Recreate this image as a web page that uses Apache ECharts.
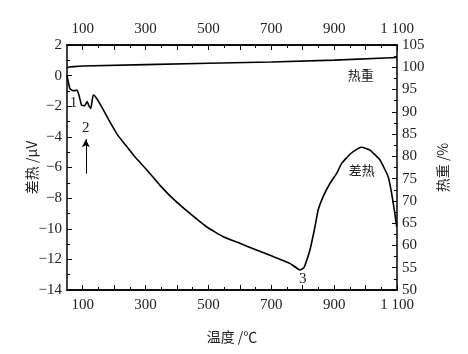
<!DOCTYPE html>
<html><head><meta charset="utf-8">
<script src="https://cdn.jsdelivr.net/npm/echarts@6/dist/echarts.min.js"></script>
<style>html,body{margin:0;padding:0;background:#fff}#c{width:468px;height:354px}</style>
</head><body><div id="c"></div>
<script>
const dtaTemps = [50,55,59,65,69,76,82,88,92,96,106,114,120,126,133,137,144,160,186,212,239,266,297,329,345,388,441,494,547,600,653,706,759,791,802,807,823,839,849,865,887,908,924,951,977,988,1014,1046,1072,1083,1093,1099];
const dtaValues = [0,-0.5,-0.83,-0.95,-0.98,-0.98,-0.94,-1.27,-1.6,-1.92,-1.98,-1.7,-1.98,-2.15,-1.27,-1.3,-1.48,-2.03,-3.0,-3.9,-4.6,-5.3,-6.0,-6.75,-7.15,-8.05,-9.0,-9.87,-10.52,-10.95,-11.39,-11.82,-12.26,-12.69,-12.58,-12.4,-11.39,-9.87,-8.78,-7.9,-7.03,-6.38,-5.73,-5.12,-4.75,-4.68,-4.86,-5.51,-6.6,-7.69,-8.99,-9.87];
const tgTemps = [50,60,100,300,500,700,900,1100];
const tgValues = [99.9,100.1,100.3,100.6,100.9,101.2,101.6,102.2];
const xMajor = [100,200,300,400,500,600,700,800,900,1000,1100];
const xMinor = [150,250,350,450,550,650,750,850,950,1050];
const xLabels = [100,300,500,700,900,1100];

const serif = '"Liberation Serif", "Times New Roman", "DejaVu Serif", serif';
const cjk = '"Noto Sans CJK SC", sans-serif';
const txt = '#222';
const fmtX = v => v >= 1000 ? String(v).replace(/^(\d)(\d{3})$/, '$1 $2') : String(v);
const fmtY = v => String(v).replace('-', '\u2212');

const chart = echarts.init(document.getElementById('c'));
const lineStyle = {color:'#000', width:1.5};
const lblStyle = {color:txt, fontFamily:serif, fontSize:15};
function xa(pos, ticks, len, labels, name) {
  return {
    type:'value', min:50, max:1100, position:pos, gridIndex:0,
    axisLine:{show:true, onZero:false, lineStyle}, splitLine:{show:false},
    axisTick:{show:true, inside:true, length:len, customValues:ticks, lineStyle:{color:'#000', width:1}},
    axisLabel:Object.assign({show:!!labels, customValues:labels || [], formatter:fmtX, margin:8}, lblStyle),
    name: name || '', nameLocation:'middle', nameGap:40, nameMoveOverlap:false,
    nameTextStyle:{color:txt, fontFamily:cjk, fontSize:14}
  };
}
chart.setOption({
  animation:false,
  textStyle:{fontFamily:serif},
  grid:{left:67, right:71, top:45, bottom:64},
  xAxis:[
    xa('bottom', xMajor, 5, xLabels, '温度 /℃'),
    xa('bottom', xMinor, 3, null),
    xa('top', xMajor, 5, xLabels),
    xa('top', xMinor, 3, null)
  ],
  yAxis:[
    {type:'value', min:-14, max:2, interval:2, position:'left',
     axisLine:{show:true, onZero:false, lineStyle}, splitLine:{show:false},
     axisTick:{show:true, inside:true, length:5, lineStyle:{color:'#000'}},
     minorTick:{show:true, splitNumber:2, length:3, lineStyle:{color:'#000'}},
     axisLabel:Object.assign({formatter:fmtY, margin:5}, lblStyle),
     name:'差热 /μV', nameLocation:'middle', nameGap:28, nameRotate:90, nameMoveOverlap:false,
     nameTextStyle:{color:txt, fontFamily:cjk, fontSize:14}},
    {type:'value', min:50, max:105, interval:5, position:'right',
     axisLine:{show:true, onZero:false, lineStyle}, splitLine:{show:false},
     axisTick:{show:true, inside:true, length:5, lineStyle:{color:'#000'}},
     minorTick:{show:true, splitNumber:2, length:3, lineStyle:{color:'#000'}},
     axisLabel:Object.assign({margin:5}, lblStyle),
     name:'热重 /%', nameLocation:'middle', nameGap:36, nameRotate:90,
     nameTextStyle:{color:txt, fontFamily:cjk, fontSize:14}}
  ],
  series:[
    {type:'line', xAxisIndex:0, yAxisIndex:0, showSymbol:false, smooth:0.1,
     data: dtaTemps.map((t,i)=>[t, dtaValues[i]]),
     lineStyle:{color:'#000', width:1.6},
     markLine:{silent:true, symbol:['none','arrow'], symbolSize:[6,8],
       lineStyle:{color:'#000', width:1, type:'solid'}, label:{show:false},
       data:[[{coord:[110,-6.4]},{coord:[110,-4.15]}]]},
     markPoint:{symbol:'circle', symbolSize:0, silent:true,
       label:{show:true, color:txt, fontFamily:serif, fontSize:15, formatter:p=>p.name},
       data:[
         {name:'1', coord:[71,-1.79]},
         {name:'2', coord:[110,-3.45]},
         {name:'3', coord:[800,-13.3]},
         {name:'热重', coord:[985,0.05], label:{fontSize:13, fontFamily:cjk}},
         {name:'差热', coord:[988,-6.16], label:{fontSize:13, fontFamily:cjk}}
       ]}
    },
    {type:'line', xAxisIndex:0, yAxisIndex:1, showSymbol:false,
     data: tgTemps.map((t,i)=>[t, tgValues[i]]),
     lineStyle:{color:'#000', width:1.6}}
  ]
});
</script></body></html>
